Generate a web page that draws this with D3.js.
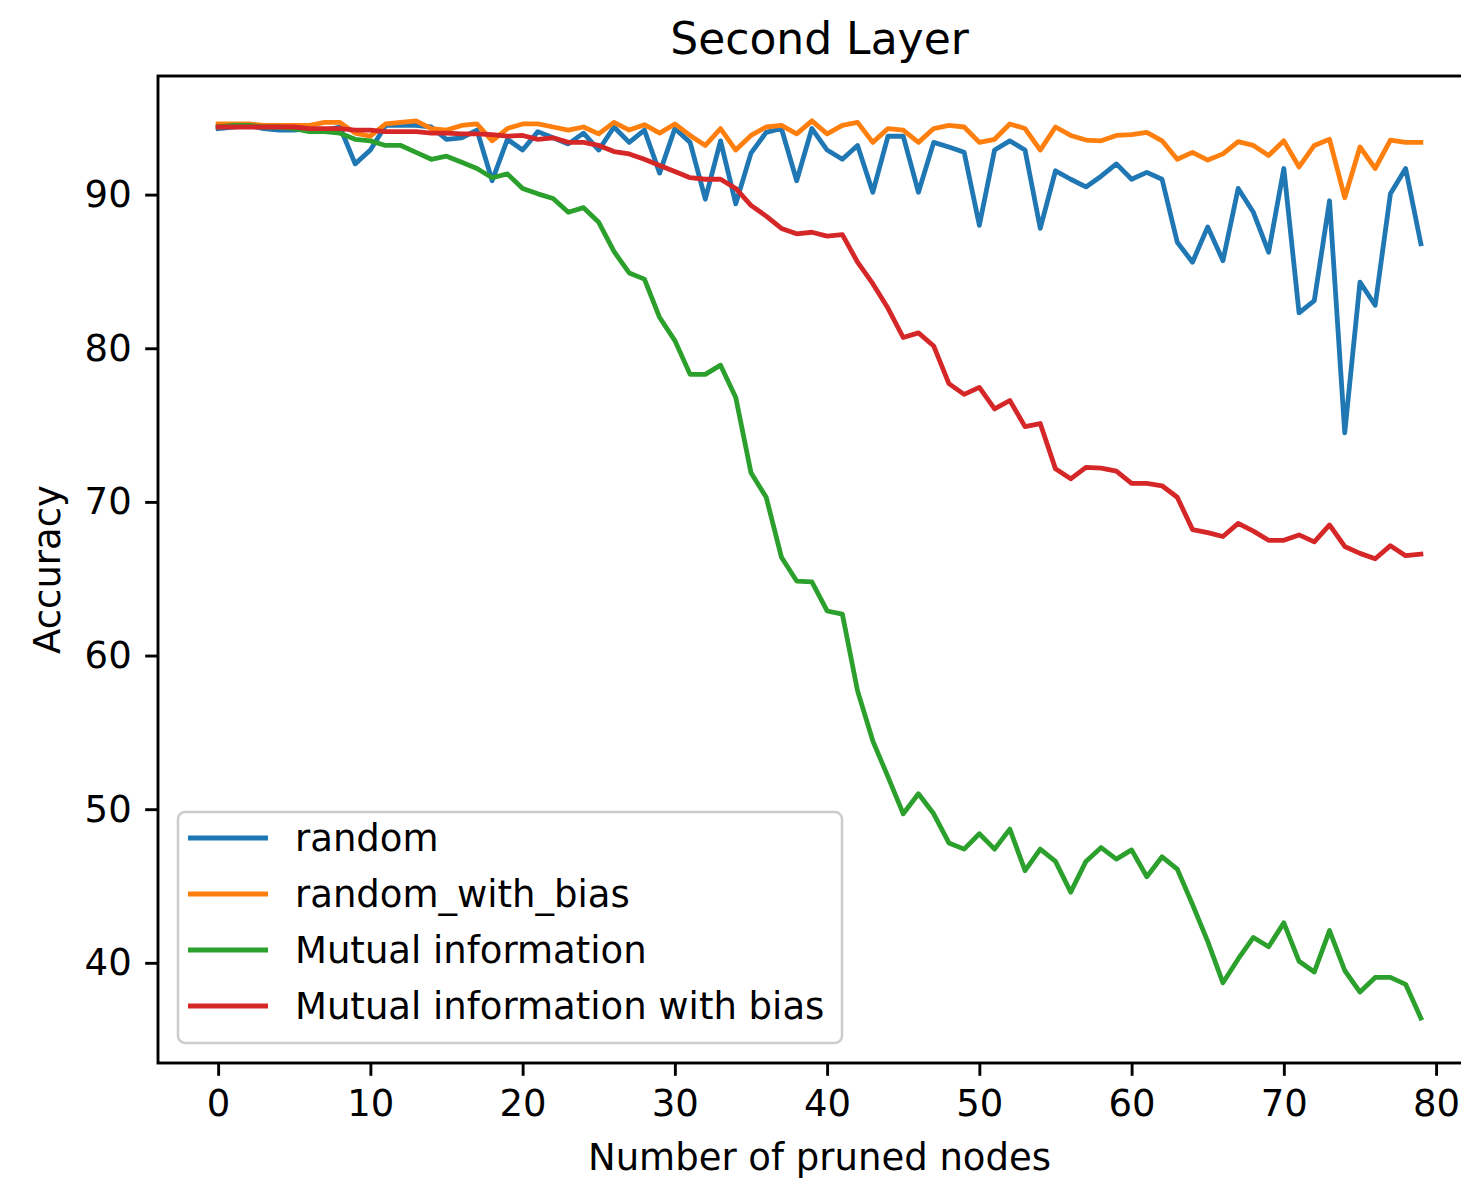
<!DOCTYPE html>
<html>
<head>
<meta charset="utf-8">
<script src="https://d3js.org/d3.v7.min.js"></script>
<style>
    body{ margin:0; background:#fff; }
    text{ font-family: "DejaVu Sans", sans-serif; fill:#000; }
</style>
</head>
<body>
<svg id="chart" width="1461" height="1178"></svg>
<script>
const seriesNames = ["random", "random_with_bias", "Mutual information", "Mutual information with bias"];
const seriesColors = ["#1f77b4", "#ff7f0e", "#2ca02c", "#d62728"];
const xTicks = [0, 10, 20, 30, 40, 50, 60, 70, 80];
const yTicks = [40, 50, 60, 70, 80, 90];

const random = [94.3,94.4,94.5,94.3,94.2,94.2,94.3,94.2,94.4,92.0,
    92.9,94.5,94.5,94.5,94.4,93.6,93.7,94.2,90.9,93.6,
    92.9,94.1,93.7,93.3,94.0,92.9,94.4,93.4,94.2,91.4,
    94.3,93.4,89.7,93.5,89.4,92.7,94.05,94.3,90.9,94.3,
    92.9,92.3,93.2,90.15,93.8,93.8,90.15,93.4,93.1,92.75,
    88.0,92.9,93.5,92.9,87.8,91.55,91.0,90.5,91.2,92.0,
    91.0,91.45,91.0,86.9,85.6,87.9,85.7,90.4,88.85,86.25,
    91.7,82.3,83.1,89.6,74.5,84.3,82.8,90.05,91.7,86.8];

const randomWithBias = [94.6,94.6,94.6,94.5,94.5,94.5,94.5,94.7,94.7,94.0,
    93.8,94.6,94.7,94.8,94.3,94.2,94.5,94.6,93.5,94.3,
    94.6,94.6,94.4,94.2,94.4,93.95,94.7,94.2,94.55,94.0,
    94.6,93.85,93.2,94.3,92.9,93.85,94.4,94.5,93.95,94.8,
    93.95,94.5,94.7,93.4,94.3,94.2,93.4,94.3,94.5,94.4,
    93.4,93.6,94.6,94.3,92.9,94.4,93.85,93.55,93.5,93.85,
    93.9,94.05,93.5,92.3,92.75,92.25,92.65,93.45,93.2,92.55,
    93.5,91.8,93.2,93.6,89.8,93.1,91.7,93.55,93.4,93.4];

const mutualInfo = [94.4,94.5,94.5,94.4,94.4,94.3,94.1,94.1,94.0,93.6,
    93.5,93.2,93.2,92.75,92.3,92.5,92.1,91.7,91.1,91.35,
    90.4,90.05,89.75,88.85,89.15,88.2,86.3,84.9,84.5,82.0,
    80.5,78.3,78.3,78.9,76.8,71.9,70.3,66.4,64.85,64.8,
    62.9,62.7,57.7,54.45,52.1,49.7,51.0,49.7,47.8,47.4,
    48.4,47.4,48.7,46.0,47.4,46.6,44.6,46.6,47.5,46.75,
    47.35,45.6,46.9,46.1,43.8,41.4,38.7,40.25,41.65,41.05,
    42.6,40.1,39.4,42.1,39.5,38.1,39.05,39.05,38.6,36.4];

const mutualInfoWithBias = [94.4,94.4,94.4,94.4,94.4,94.4,94.3,94.3,94.3,94.2,
    94.2,94.1,94.1,94.1,94.0,94.0,93.95,93.95,93.9,93.8,
    93.85,93.6,93.7,93.4,93.4,93.2,92.8,92.65,92.3,91.9,
    91.5,91.1,91.0,91.0,90.4,89.3,88.6,87.8,87.45,87.55,
    87.3,87.4,85.6,84.2,82.6,80.7,81.0,80.15,77.7,77.0,
    77.45,76.05,76.6,74.9,75.1,72.15,71.5,72.25,72.2,72.0,
    71.2,71.2,71.05,70.3,68.2,68.0,67.75,68.6,68.1,67.5,
    67.5,67.85,67.4,68.5,67.1,66.65,66.3,67.15,66.5,66.6];

const allSeries = [random, randomWithBias, mutualInfo, mutualInfoWithBias];

// plot box (right edge falls outside the picture, like the reference)
const plotLeft = 158, plotTop = 76, plotRight = 1481, plotBottom = 1063;
const fontSize = 37,
        tickLen = 12.8,
        tickPad = 13.5;

const svg = d3.select("#chart");

// matplotlib style 5% margins
let xExt = [0, random.length - 1];
let xPad = (xExt[1] - xExt[0]) * 0.05;
let allValues = allSeries.flat();
let yExt = d3.extent(allValues);
let yPad = (yExt[1] - yExt[0]) * 0.05;

const x = d3.scaleLinear()
    .domain([xExt[0] - xPad, xExt[1] + xPad])
    .range([plotLeft, plotRight]);
const y = d3.scaleLinear()
    .domain([yExt[0] - yPad, yExt[1] + yPad])
    .range([plotBottom, plotTop]);

//lines
const line = d3.line()
    .x((d, i) => x(i))
    .y(d => y(d));

svg.append("g")
    .selectAll("path")
    .data(allSeries)
    .enter().append("path")
    .attr("d", d => line(d))
    .attr("fill", "none")
    .attr("stroke", (d, i) => seriesColors[i])
    .attr("stroke-width", 4.8)
    .attr("stroke-linejoin", "round")
    .attr("stroke-linecap", "square");

//axes
const xAxis = d3.axisBottom(x)
    .tickValues(xTicks)
    .tickSize(tickLen)
    .tickPadding(tickPad)
    .tickSizeOuter(0);
const yAxis = d3.axisLeft(y)
    .tickValues(yTicks)
    .tickSize(tickLen)
    .tickPadding(tickPad)
    .tickSizeOuter(0);

let xg = svg.append("g")
    .attr("transform", `translate(0,${plotBottom})`)
    .call(xAxis);
let yg = svg.append("g")
    .attr("transform", `translate(${plotLeft},0)`)
    .call(yAxis);

[xg, yg].forEach(g => {
    g.select(".domain").remove();
    g.selectAll(".tick line")
        .attr("stroke", "#000")
        .attr("stroke-width", 2.9);
    g.selectAll(".tick text")
        .attr("font-size", fontSize)
        .attr("font-family", "DejaVu Sans")
        .attr("fill", "#000");
});

// spines
svg.append("rect")
    .attr("x", plotLeft)
    .attr("y", plotTop)
    .attr("width", plotRight - plotLeft)
    .attr("height", plotBottom - plotTop)
    .attr("fill", "none")
    .attr("stroke", "#000")
    .attr("stroke-width", 2.9);

//labels
svg.append("text")
    .attr("x", (plotLeft + plotRight) / 2)
    .attr("y", 54)
    .attr("text-anchor", "middle")
    .attr("font-size", 44)
    .text("Second Layer");

svg.append("text")
    .attr("x", (plotLeft + plotRight) / 2)
    .attr("y", 1170)
    .attr("text-anchor", "middle")
    .attr("font-size", fontSize)
    .text("Number of pruned nodes");

svg.append("text")
    .attr("transform", `translate(60,${(plotTop + plotBottom) / 2}) rotate(-90)`)
    .attr("text-anchor", "middle")
    .attr("font-size", fontSize)
    .text("Accuracy");

//legend
let legend = svg.append("g")
    .attr("transform", `translate(178,812)`);

legend.append("rect")
    .attr("width", 664)
    .attr("height", 231)
    .attr("rx", 7)
    .attr("fill", "#fff")
    .attr("fill-opacity", 0.8)
    .attr("stroke", "#cccccc")
    .attr("stroke-width", 2.5);

let items = legend.selectAll(".item")
    .data(seriesNames)
    .enter().append("g")
    .attr("class", "item")
    .attr("transform", (d, i) => `translate(0,${26 + i * 56})`);

items.append("line")
    .attr("x1", 10)
    .attr("x2", 90)
    .attr("stroke", (d, i) => seriesColors[i])
    .attr("stroke-width", 4.8);

items.append("text")
    .attr("x", 117)
    .attr("dy", "0.35em")
    .attr("font-size", fontSize)
    .text(d => d);
</script>
</body>
</html>
